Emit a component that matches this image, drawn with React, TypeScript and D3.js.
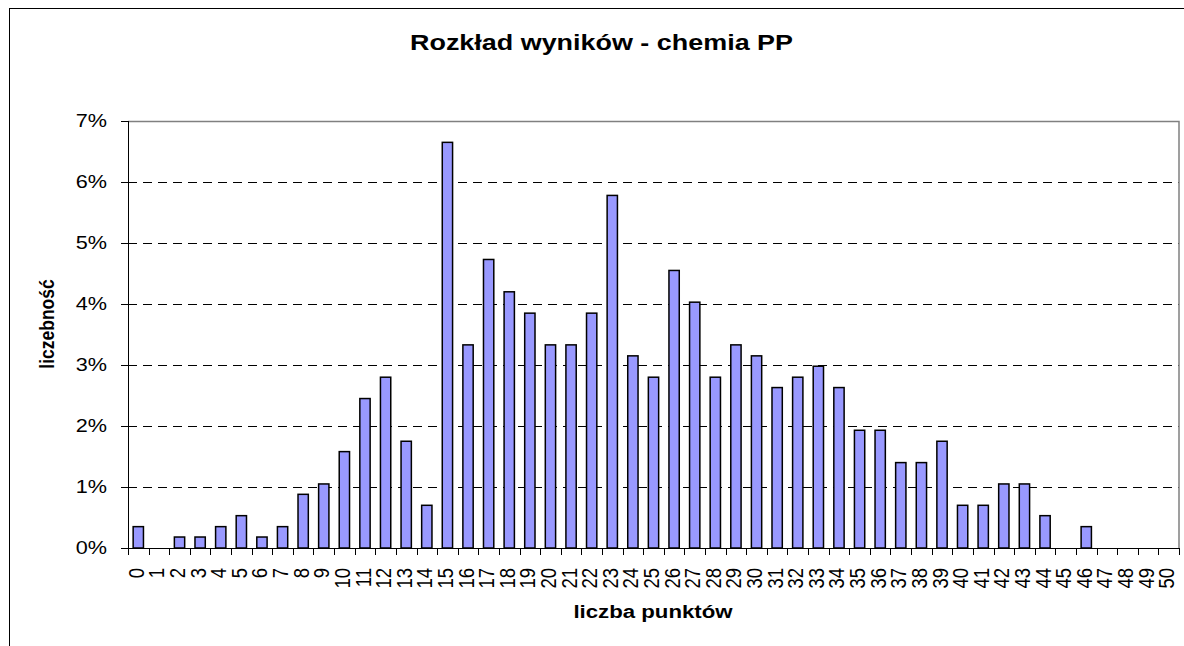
import React from "react";
import * as d3 from "d3";

const categories: string[] = [
  "0","1","2","3","4","5","6","7","8","9",
  "10","11","12","13","14","15","16","17","18","19",
  "20","21","22","23","24","25","26","27","28","29",
  "30","31","32","33","34","35","36","37","38","39",
  "40","41","42","43","44","45","46","47","48","49","50",
];

// percentage of students per score
const percents: number[] = [
  0.35, 0, 0.18, 0.18, 0.35, 0.53, 0.18, 0.35, 0.88, 1.05,
  1.58, 2.45, 2.80, 1.75, 0.70, 6.65, 3.33, 4.73, 4.20, 3.85,
  3.33, 3.33, 3.85, 5.78, 3.15, 2.80, 4.55, 4.03, 2.80, 3.33,
  3.15, 2.63, 2.80, 2.98, 2.63, 1.93, 1.93, 1.40, 1.40, 1.75,
  0.70, 0.70, 1.05, 1.05, 0.53, 0, 0.35, 0, 0, 0, 0,
];

const yTicks: number[] = [0, 1, 2, 3, 4, 5, 6, 7];
const gridValues: number[] = [1, 2, 3, 4, 5, 6];

const title = "Rozkład wyników - chemia PP";
const xTitle = "liczba punktów";
const yTitle = "liczebność";

const W = 1184;
const H = 646;
const L = 128;
const R = 1179;
const T = 121;
const B = 548;
const SX = 1.17;
const FONT = "'Liberation Sans', Arial, sans-serif";

export default function App() {
  const x = d3
    .scaleBand<string>()
    .domain(categories)
    .range([L, R])
    .paddingInner(0.5)
    .paddingOuter(0.25);
  const y = d3.scaleLinear().domain([0, 7]).range([B, T]);
  const step = x.step();
  const bw = x.bandwidth();
  const boundaries = d3.range(categories.length + 1).map((i) => L + i * step);

  return (
    <svg
      width={W}
      height={H}
      style={{ position: "absolute", left: 0, top: 0, background: "#fff" }}
      fontFamily={FONT}
    >
      <rect x={0} y={0} width={W} height={H} fill="#fff" />
      {/* outer chart border */}
      <rect x={9.5} y={8.5} width={1300} height={800} fill="none" stroke="#000" strokeWidth={1} />

      {/* title */}
      <text
        x={601.5}
        y={49.5}
        textAnchor="middle"
        fontSize={22.5}
        fontWeight="bold"
        textLength={383}
        lengthAdjust="spacingAndGlyphs"
      >
        {title}
      </text>

      {/* gridlines */}
      {gridValues.map((v) => (
        <line
          key={"g" + v}
          x1={L}
          x2={R}
          y1={Math.round(y(v)) + 0.5}
          y2={Math.round(y(v)) + 0.5}
          stroke="#000"
          strokeWidth={1}
          strokeDasharray="9,6"
        />
      ))}

      {/* plot area border top/right */}
      <path
        d={`M${L},${T + 0.5}H${R}V${B}`}
        fill="none"
        stroke="#808080"
        strokeWidth={1.5}
      />

      {/* bars */}
      {categories.map((c, i) =>
        percents[i] > 0 ? (
          <rect
            key={"b" + c}
            x={(x(c) as number)}
            y={y(percents[i])}
            width={bw}
            height={B - y(percents[i])}
            fill="#9999FF"
            stroke="#000"
            strokeWidth={1.5}
          />
        ) : null
      )}

      {/* axes */}
      <line x1={L + 0.5} x2={L + 0.5} y1={T} y2={B} stroke="#000" strokeWidth={1} />
      <line x1={L} x2={R} y1={B + 0.5} y2={B + 0.5} stroke="#000" strokeWidth={1} />

      {/* y ticks */}
      {yTicks.map((v) => (
        <g key={"yt" + v}>
          <line
            x1={L - 7}
            x2={L}
            y1={Math.round(y(v)) + 0.5}
            y2={Math.round(y(v)) + 0.5}
            stroke="#000"
          />
          <text
            transform={`translate(107,${y(v)}) scale(${SX},1)`}
            textAnchor="end"
            dominantBaseline="central"
            fontSize={18.5}
          >
            {v + "%"}
          </text>
        </g>
      ))}

      {/* x ticks */}
      {boundaries.map((bx, i) => (
        <line
          key={"xt" + i}
          x1={Math.round(bx) + 0.5}
          x2={Math.round(bx) + 0.5}
          y1={B}
          y2={B + 7}
          stroke="#000"
        />
      ))}
      {categories.map((c) => (
        <text
          key={"xl" + c}
          transform={`translate(${(x(c) as number) + bw / 2 - 2},568) scale(${SX},1) rotate(-90)`}
          textAnchor="end"
          dominantBaseline="central"
          fontSize={18.5}
        >
          {c}
        </text>
      ))}

      {/* axis titles */}
      <text
        transform={`translate(653,618) scale(${SX},1)`}
        textAnchor="middle"
        fontSize={19}
        fontWeight="bold"
      >
        {xTitle}
      </text>
      <text
        transform={`translate(47,324) scale(${SX},1) rotate(-90)`}
        textAnchor="middle"
        dominantBaseline="central"
        fontSize={17.5}
        fontWeight="bold"
      >
        {yTitle}
      </text>
    </svg>
  );
}
